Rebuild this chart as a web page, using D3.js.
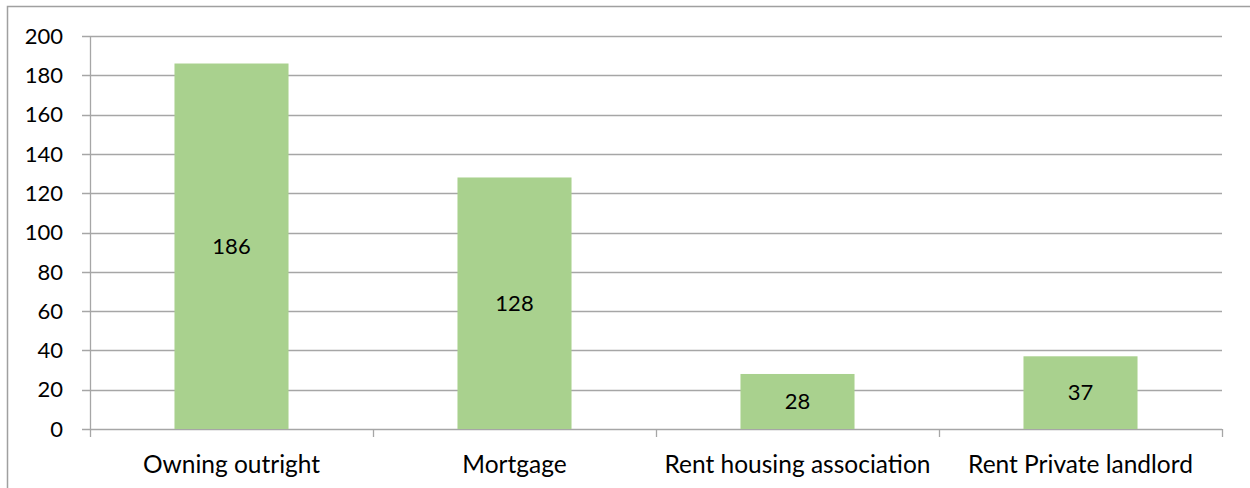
<!DOCTYPE html>
<html>
<head>
<meta charset="utf-8">
<script src="https://cdn.jsdelivr.net/npm/d3@7.9.0/dist/d3.min.js"></script>
<style>
  body { margin: 0; background: #fff; }
  text { font-family: Lato, "Open Sans", sans-serif; fill: #000; }
</style>
</head>
<body>
<svg id="chart" width="1250" height="488"></svg>
<script>
// data
const categories = ['Owning outright', 'Mortgage', 'Rent housing association', 'Rent Private landlord'];
const counts = [186, 128, 28, 37];
const yTicks = [0, 20, 40, 60, 80, 100, 120, 140, 160, 180, 200];

const svg = d3.select('#chart');
const margin = { top: 36, right: 28, bottom: 59, left: 90 };
const W = 1250, H = 488;
const fs = 22;

// outer chart border
svg.append('rect')
  .attr('x', 7.5).attr('y', 6.5)
  .attr('width', W + 10).attr('height', H + 10)
  .attr('fill', 'none').attr('stroke', '#a0a0a0').attr('stroke-width', 1.5);

const x = d3.scaleBand()
  .domain(categories)
  .range([margin.left, W - margin.right])
  .paddingInner(0.597).paddingOuter(0.2985);

const y = d3.scaleLinear()
  .domain([0, 200])
  .range([H - margin.bottom, margin.top]);

// gridlines
svg.append('g')
  .selectAll('line')
  .data(yTicks)
  .join('line')
  .attr('x1', margin.left - 8).attr('x2', W - margin.right)
  .attr('y1', d => Math.round(y(d)) + 0.5).attr('y2', d => Math.round(y(d)) + 0.5)
  .attr('stroke', '#a6a6a6').attr('stroke-width', 1.3);

// y axis line
svg.append('line')
  .attr('x1', margin.left + 0.5).attr('x2', margin.left + 0.5)
  .attr('y1', y(200)).attr('y2', y(0))
  .attr('stroke', '#a6a6a6').attr('stroke-width', 1.3);

// y tick labels
svg.append('g')
  .selectAll('text')
  .data(yTicks)
  .join('text')
  .attr('x', margin.left - 27)
  .attr('y', d => y(d))
  .attr('dy', '0.35em')
  .attr('text-anchor', 'end')
  .attr('font-size', fs)
  .text(d => d);

// x category boundary ticks
const step = x.step();
const bounds = d3.range(categories.length + 1).map(i => margin.left + i * step);
svg.append('g')
  .selectAll('line')
  .data(bounds)
  .join('line')
  .attr('x1', d => Math.round(d) + 0.5).attr('x2', d => Math.round(d) + 0.5)
  .attr('y1', y(0)).attr('y2', y(0) + 8)
  .attr('stroke', '#a6a6a6').attr('stroke-width', 1.3);

// bars
svg.append('g')
  .selectAll('rect')
  .data(counts)
  .join('rect')
  .attr('x', (d, i) => x(categories[i]))
  .attr('width', x.bandwidth())
  .attr('y', d => y(d))
  .attr('height', d => y(0) - y(d))
  .attr('fill', '#a9d18e');

// value labels in middle of bars
svg.append('g')
  .selectAll('text')
  .data(counts)
  .join('text')
  .attr('x', (d, i) => x(categories[i]) + x.bandwidth() / 2)
  .attr('y', d => (y(d) + y(0)) / 2)
  .attr('dy', '0.35em')
  .attr('text-anchor', 'middle')
  .attr('font-size', fs)
  .text(d => d);

// category labels
svg.append('g')
  .selectAll('text')
  .data(categories)
  .join('text')
  .attr('x', d => x(d) + x.bandwidth() / 2)
  .attr('y', 464)
  .attr('dy', '0.35em')
  .attr('text-anchor', 'middle')
  .attr('font-size', 24.5)
  .text(d => d);
</script>
</body>
</html>
